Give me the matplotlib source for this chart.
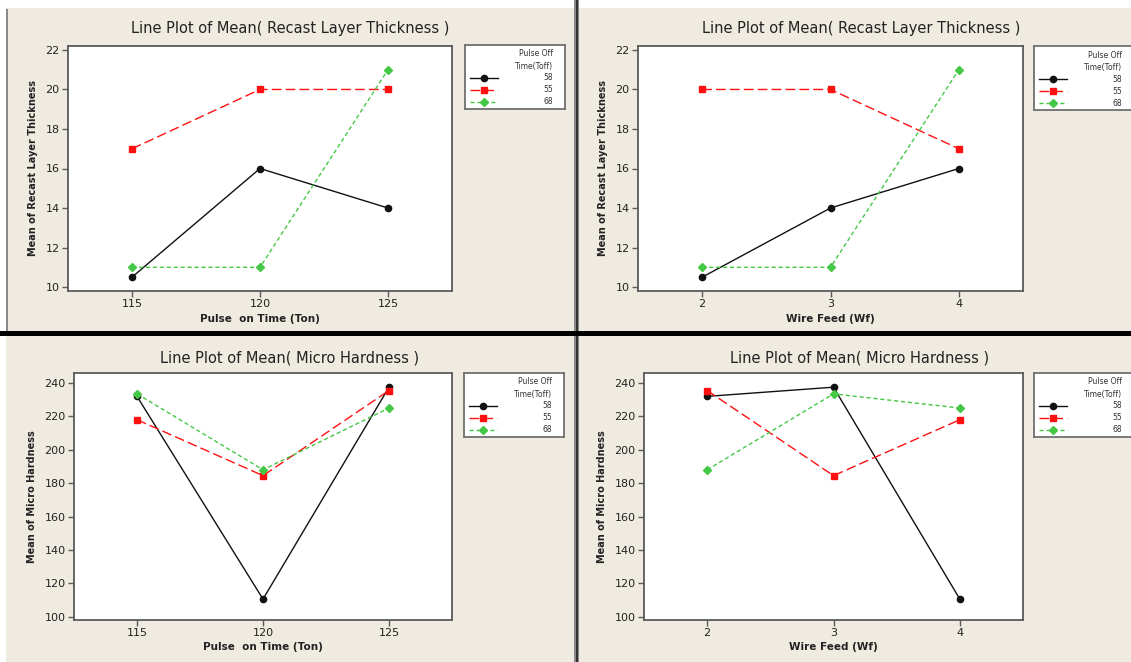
import matplotlib
matplotlib.use('Agg')
import matplotlib.pyplot as plt
from matplotlib.patches import Rectangle
from matplotlib.lines import Line2D

W, H = 1131, 662

# x levels
ton = [115, 120, 125]
wire_feed = [2, 3, 4]
toff_labels = ['58', '55', '68']

# mean recast layer thickness
rlt_ton_58 = [10.5, 16, 14]
rlt_ton_55 = [17, 20, 20]
rlt_ton_68 = [11, 11, 21]
rlt_wf_58 = [10.5, 14, 16]
rlt_wf_55 = [20, 20, 17]
rlt_wf_68 = [11, 11, 21]

# mean micro hardness
mh_ton_58 = [232, 110.5, 237.5]
mh_ton_55 = [218, 184.5, 235.5]
mh_ton_68 = [233.5, 188, 225]
mh_wf_58 = [232, 237.5, 110.5]
mh_wf_55 = [235.5, 184.5, 218]
mh_wf_68 = [188, 233.5, 225]

rlt_ticks = [10, 12, 14, 16, 18, 20, 22]
mh_ticks = [100, 120, 140, 160, 180, 200, 220, 240]

BG = '#EFEBE1'
FRAME = '#5a5a5a'
styles = [
    dict(color='#111111', ls='-', marker='o', ms=4.5, lw=1.0),
    dict(color='#FF1010', ls=(0, (7, 3)), marker='s', ms=5, lw=1.0),
    dict(color='#45C845', ls=(0, (3, 2)), marker='D', ms=4.5, lw=1.0),
]


def box(l, t, r, b):
    return [l / W, 1 - b / H, (r - l) / W, (b - t) / H]


def fx(x):
    return x / W


def fy(y):
    return 1 - y / H


fig = plt.figure(figsize=(W / 100, H / 100), dpi=100, facecolor=BG)

# window borders / separators
fig.patches.append(Rectangle((0, fy(8)), 1, 8 / H, transform=fig.transFigure,
                             facecolor='white', edgecolor='none', zorder=0))
fig.patches.append(Rectangle((0, 0), fx(6), 1, transform=fig.transFigure,
                             facecolor='white', edgecolor='none', zorder=0))
fig.patches.append(Rectangle((fx(6), fy(331)), fx(2), (331 - 9) / H, transform=fig.transFigure,
                             facecolor='#8a8a8a', edgecolor='none', zorder=0))
fig.patches.append(Rectangle((fx(574), 0), fx(5), 1, transform=fig.transFigure,
                             facecolor='#8a8a8a', edgecolor='none', zorder=1))
fig.patches.append(Rectangle((fx(576), 0), fx(1.5), 1, transform=fig.transFigure,
                             facecolor='#333333', edgecolor='none', zorder=1))
fig.patches.append(Rectangle((0, fy(336)), 1, 5 / H, transform=fig.transFigure,
                             facecolor='black', edgecolor='none', zorder=2))


def panel(ax_px, leg_px, title, title_px, x, series, xlabel, ylabel, xlim, ylim, yticks):
    ax = fig.add_axes(box(*ax_px))
    ax.set_facecolor('white')
    for s, st in zip(series, styles):
        ax.plot(x, s, **st)
    ax.set_xlim(xlim)
    ax.set_ylim(ylim)
    ax.set_xticks(x)
    ax.set_yticks(yticks)
    for sp in ax.spines.values():
        sp.set_color(FRAME)
        sp.set_linewidth(1.3)
    ax.tick_params(direction='out', length=4, width=1, color=FRAME,
                   labelsize=8, labelcolor='#222222', pad=2)
    ax.set_xlabel(xlabel, fontsize=7.5, fontweight='bold', color='#222222', labelpad=3)
    ax.set_ylabel(ylabel, fontsize=7, fontweight='bold', color='#222222', labelpad=5)
    fig.text(fx(title_px[0]), fy(title_px[1]), title, fontsize=10.5, color='#222222',
             ha='center', va='center')

    # legend box
    l, t = leg_px
    lax = fig.add_axes(box(l, t, l + 100, t + 64))
    lax.set_xlim(0, 100)
    lax.set_ylim(64, 0)
    lax.set_xticks([])
    lax.set_yticks([])
    lax.set_facecolor('white')
    for sp in lax.spines.values():
        sp.set_color('#707070')
        sp.set_linewidth(1.3)
    lax.text(88, 9, 'Pulse Off', fontsize=5.5, ha='right', va='center', color='#333333')
    lax.text(88, 21, 'Time(Toff)', fontsize=5.5, ha='right', va='center', color='#333333')
    for i, (lab, st) in enumerate(zip(toff_labels, styles)):
        yy = 33 + 12 * i
        lax.add_line(Line2D([5, 33], [yy, yy], color=st['color'], ls=st['ls'], lw=st['lw']))
        lax.add_line(Line2D([19], [yy], color=st['color'], marker=st['marker'], ms=st['ms'], ls='none'))
        lax.text(88, yy, lab, fontsize=5.5, ha='right', va='center', color='#333333')
    return ax


panel((68, 46, 452, 291), (465, 45), 'Line Plot of Mean( Recast Layer Thickness )', (290, 28),
      ton, [rlt_ton_58, rlt_ton_55, rlt_ton_68], 'Pulse  on Time (Ton)',
      'Mean of Recast Layer Thickness', (112.5, 127.5), (9.8, 22.2), rlt_ticks)
panel((638, 46, 1023, 291), (1034, 46), 'Line Plot of Mean( Recast Layer Thickness )', (861, 28),
      wire_feed, [rlt_wf_58, rlt_wf_55, rlt_wf_68], 'Wire Feed (Wf)',
      'Mean of Recast Layer Thickness', (1.5, 4.5), (9.8, 22.2), rlt_ticks)
panel((74, 373, 452, 620), (464, 373), 'Line Plot of Mean( Micro Hardness )', (290, 358),
      ton, [mh_ton_58, mh_ton_55, mh_ton_68], 'Pulse  on Time (Ton)',
      'Mean of Micro Hardness', (112.5, 127.5), (98, 246), mh_ticks)
panel((644, 373, 1023, 620), (1034, 373), 'Line Plot of Mean( Micro Hardness )', (860, 358),
      wire_feed, [mh_wf_58, mh_wf_55, mh_wf_68], 'Wire Feed (Wf)',
      'Mean of Micro Hardness', (1.5, 4.5), (98, 246), mh_ticks)

fig.savefig('out.png', dpi=100, facecolor=BG)
